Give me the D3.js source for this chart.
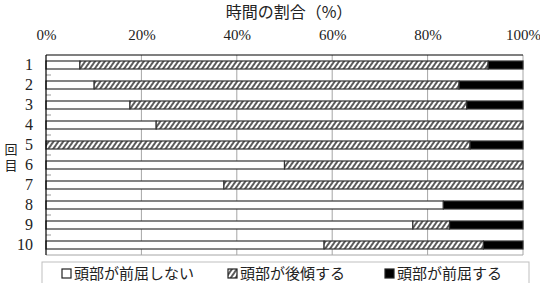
<!DOCTYPE html>
<html lang="ja">
<head>
    <meta charset="UTF-8">
    <title>時間の割合</title>
    <style>
        body,
        html {
            margin: 0;
            padding: 0;
            background: #fff;
        }
        .num { font-family: "Liberation Serif", "DejaVu Serif", serif; }
        .jp { font-family: "Noto Sans CJK JP", sans-serif; }
    </style>
    <script src="https://d3js.org/d3.v7.min.js"></script>
</head>
<body>
<div id="chart"></div>
<script>
    // rows (回目) and the three shares of time, in %
    let categories = ['1', '2', '3', '4', '5', '6', '7', '8', '9', '10'];
    let seriesNames = ['頭部が前屈しない', '頭部が後傾する', '頭部が前屈する'];
    let noFlex   = [7.1, 10.1, 17.6, 23.1, 0, 50.0, 37.3, 83.3, 76.9, 58.3];
    let tiltBack = [85.6, 76.5, 70.6, 76.9, 88.9, 50.0, 62.7, 0, 7.7, 33.4];
    let flexed   = [7.3, 13.4, 11.8, 0, 11.1, 0, 0, 16.7, 15.4, 8.3];
    let tickValues = [0, 20, 40, 60, 80, 100];

    (function () {
        let width = 540, height = 283,
            left = 46, right = 523, top = 55, bottom = 255;

        let svg = d3.select('#chart').append('svg')
            .attr('width', width).attr('height', height);

        let defs = svg.append('defs');
        let pat = defs.append('pattern')
            .attr('id', 'hatch')
            .attr('patternUnits', 'userSpaceOnUse')
            .attr('width', 4).attr('height', 4)
            .attr('patternTransform', 'rotate(35)');
        pat.append('rect').attr('width', 4).attr('height', 4).attr('fill', '#fff');
        pat.append('line').attr('x1', 1).attr('y1', 0).attr('x2', 1).attr('y2', 4)
            .attr('stroke', '#333').attr('stroke-width', 1.6);

        let x = d3.scaleLinear().domain([0, 100]).range([left, right]);
        let y = d3.scaleBand().domain(categories).range([top, bottom])
            .paddingInner(0.6).paddingOuter(0.3);

        // gridlines
        svg.append('g').selectAll('line')
            .data(tickValues.slice(1, -1))
            .enter().append('line')
            .attr('x1', d => x(d)).attr('x2', d => x(d))
            .attr('y1', top).attr('y2', bottom)
            .attr('stroke', '#a6a6a6').attr('stroke-width', 1);

        // plot frame: right and bottom gray
        svg.append('line').attr('x1', right).attr('x2', right).attr('y1', top).attr('y2', bottom)
            .attr('stroke', '#a6a6a6');
        svg.append('line').attr('x1', left).attr('x2', right).attr('y1', bottom).attr('y2', bottom)
            .attr('stroke', '#a6a6a6');

        // category ticks at band boundaries
        svg.append('g').selectAll('line')
            .data(categories.slice(1))
            .enter().append('line')
            .attr('x1', left).attr('x2', left + 5)
            .attr('y1', d => y(d) - y.step() * 0.3)
            .attr('y2', d => y(d) - y.step() * 0.3)
            .attr('stroke', '#999');

        // stacked bars
        let table = categories.map((c, i) => ({cat: c, a: noFlex[i], b: tiltBack[i], c: flexed[i]}));
        let stack = d3.stack().keys(['a', 'b', 'c'])(table);
        let fills = ['#fff', 'url(#hatch)', '#000'];

        svg.append('g').selectAll('g')
            .data(stack)
            .enter().append('g')
            .attr('fill', (d, i) => fills[i])
            .selectAll('rect')
            .data(d => d.filter(p => p[1] - p[0] > 0))
            .enter().append('rect')
            .attr('x', d => x(d[0]))
            .attr('y', d => y(d.data.cat))
            .attr('width', d => x(d[1]) - x(d[0]))
            .attr('height', y.bandwidth())
            .attr('stroke', '#333')
            .attr('stroke-width', 1.2);

        // top frame & left axis (black)
        svg.append('line').attr('x1', left).attr('x2', right).attr('y1', top).attr('y2', top)
            .attr('stroke', '#000').attr('stroke-width', 1.2);
        svg.append('line').attr('x1', left).attr('x2', left).attr('y1', top).attr('y2', bottom)
            .attr('stroke', '#000').attr('stroke-width', 1.2);

        // top axis labels
        let xAxis = svg.append('g')
            .attr('transform', 'translate(0,' + top + ')')
            .call(d3.axisTop(x).tickValues(tickValues).tickSize(0).tickPadding(15)
                .tickFormat(d => d + '%'));
        xAxis.select('.domain').remove();
        xAxis.selectAll('text').attr('class', 'num')
            .style('font-size', '15px').attr('fill', '#222');

        // category labels
        let yAxis = svg.append('g')
            .attr('transform', 'translate(' + left + ',0)')
            .call(d3.axisLeft(y).tickSize(0).tickPadding(13));
        yAxis.select('.domain').remove();
        yAxis.selectAll('text').attr('class', 'num')
            .style('font-size', '16px').attr('fill', '#222');

        // titles
        svg.append('text').attr('class', 'jp')
            .attr('x', 289).attr('y', 18)
            .attr('text-anchor', 'middle')
            .style('font-size', '16px').attr('fill', '#222')
            .text('時間の割合（%）');

        // vertical axis title (stacked characters)
        svg.append('text').attr('class', 'jp')
            .attr('x', 11).attr('y', 143)
            .style('writing-mode', 'vertical-rl')
            .style('font-size', '13px')
            .style('letter-spacing', '3px')
            .attr('fill', '#222')
            .text('回目');

        // legend
        svg.append('rect')
            .attr('x', 42).attr('y', 262).attr('width', 487).attr('height', 30)
            .attr('fill', 'none').attr('stroke', '#bfbfbf');

        let legendX = [62, 228, 385];
        let lg = svg.append('g').selectAll('g')
            .data(seriesNames)
            .enter().append('g')
            .attr('transform', (d, i) => 'translate(' + legendX[i] + ',273)');
        lg.append('rect')
            .attr('x', 0).attr('y', -4).attr('width', 9).attr('height', 9)
            .attr('fill', (d, i) => fills[i])
            .attr('stroke', '#222').attr('stroke-width', 1.2);
        lg.append('text').attr('class', 'jp')
            .attr('x', 12).attr('y', 5.5)
            .style('font-size', '15px').attr('fill', '#222')
            .text(d => d);
    }());
</script>
</body>
</html>
